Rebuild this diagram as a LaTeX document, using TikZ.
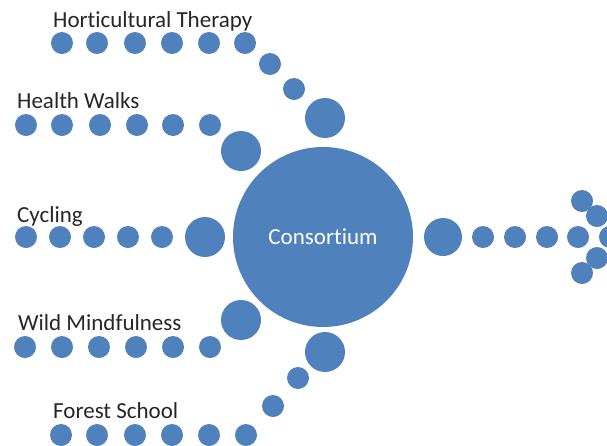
\documentclass[tikz,border=0pt]{standalone}
\usepackage{fontspec}
\setmainfont{Carlito}[Ligatures={NoCommon}]
\definecolor{dotblue}{HTML}{4F81BD}
\definecolor{txtgray}{HTML}{262626}
\begin{document}
\begin{tikzpicture}[x=1pt,y=-1pt,
  dot/.style={circle,fill=dotblue,draw=none,minimum size=22pt,inner sep=0pt},
  bigdot/.style={circle,fill=dotblue,draw=none,minimum size=40pt,inner sep=0pt},
  hub/.style={circle,fill=dotblue,draw=none,minimum size=180pt,inner sep=0pt,text=white,font=\fontsize{23}{27}\selectfont},
  lbl/.style={anchor=base west,inner sep=0pt,text=txtgray,font=\fontsize{23}{27}\selectfont}]
\useasboundingbox (0,0) rectangle (607,445);
% hub
\node[hub] (hub) at (323,237) {Consortium};
% Horticultural Therapy
\node[lbl] (tH) at (53,27) {Horticultural Therapy};
\foreach \x [count=\i] in {62,97,135,172,209,245}
  \node[dot] (h\i) at (\x,43) {};
\node[dot] (h7) at (270,64) {};
\node[dot] (h8) at (294,89) {};
\node[bigdot] (h9) at (325,118) {};
% Health Walks
\node[lbl] (tW) at (17,108) {Health Walks};
\foreach \x [count=\i] in {26,62,100,137,173,210}
  \node[dot] (w\i) at (\x,125) {};
\node[bigdot] (w7) at (241,151) {};
% Cycling
\node[lbl] (tC) at (17,222) {Cycling};
\foreach \x [count=\i] in {26,60,94,128,162}
  \node[dot] (c\i) at (\x,237) {};
\node[bigdot] (c6) at (205,237) {};
% Wild Mindfulness
\node[lbl] (tM) at (18,330) {Wild Mindfulness};
\foreach \x [count=\i] in {25,62,99,136,173,210}
  \node[dot] (m\i) at (\x,347) {};
\node[bigdot] (m7) at (241,320) {};
% Forest School
\node[lbl] (tF) at (53,418) {Forest School};
\foreach \x [count=\i] in {61,97,135,172,209,246}
  \node[dot] (f\i) at (\x,435) {};
\node[dot] (f7) at (273,406) {};
\node[dot] (f8) at (298,378) {};
\node[bigdot] (f9) at (325,352) {};
% right arrow
\node[bigdot,minimum size=38pt] (r1) at (443,237) {};
\foreach \x [count=\i from 2] in {483,515,547,578}
  \node[dot] (r\i) at (\x,237) {};
\node[dot] (a1) at (582,201) {};
\node[dot] (a2) at (597,216) {};
\node[dot] (a3) at (610,237) {};
\node[dot] (a4) at (597,258) {};
\node[dot] (a5) at (582,273) {};
\end{tikzpicture}
\end{document}
